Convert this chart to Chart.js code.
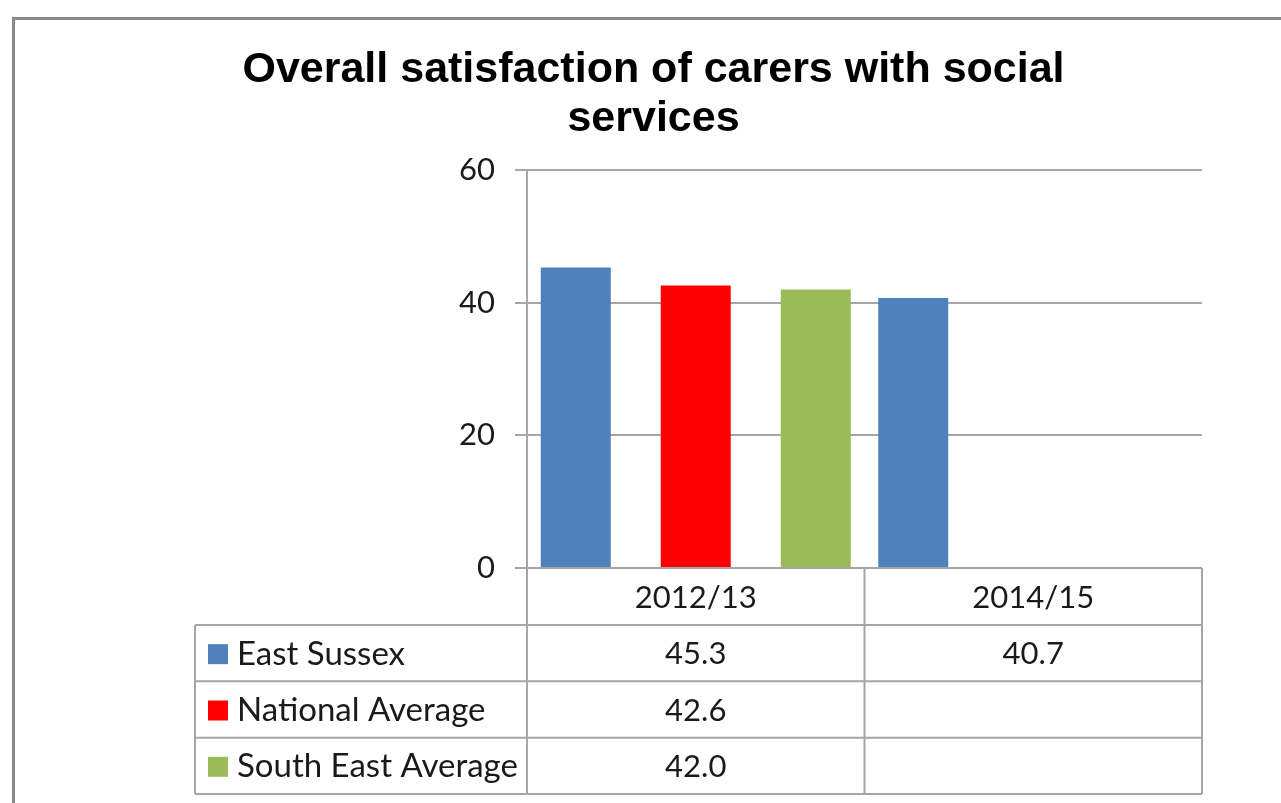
<!DOCTYPE html>
<html>
<head>
<meta charset="utf-8">
<title>Overall satisfaction of carers with social services</title>
<script src="https://cdn.jsdelivr.net/npm/chart.js@4.4.1/dist/chart.umd.min.js"></script>
<style>
  html, body { margin: 0; padding: 0; background: #fff; }
  #wrap { width: 1281px; height: 803px; position: relative; }
</style>
</head>
<body>
<div id="wrap"><canvas id="chart" width="1281" height="803"></canvas></div>
<script>
// Survey years (categories) and the satisfaction score for each area
const categories = ['2012/13', '2014/15'];
const eastSussex = [45.3, 40.7];
const nationalAverage = [42.6, null];
const southEastAverage = [42.0, null];

const seriesNames = ['East Sussex', 'National Average', 'South East Average'];
const seriesColors = ['#4F81BD', '#FF0000', '#9BBB59'];
const yTicks = [0, 20, 40, 60];

const titleLines = ['Overall satisfaction of carers with social', 'services'];

const LINE = '#a6a6a6';
const NUM_FONT = '31px Lato';
const LABEL_FONT = '33px Lato';

// Outer frame of the chart object
const framePlugin = {
  id: 'frame',
  beforeDraw(chart) {
    const ctx = chart.ctx;
    ctx.save();
    ctx.fillStyle = '#ffffff';
    ctx.fillRect(0, 0, chart.width, chart.height);
    ctx.fillStyle = '#8a8a8a';
    ctx.fillRect(12, 17, chart.width - 12, 3);
    ctx.fillRect(12, 17, 3, chart.height - 17);
    ctx.restore();
  }
};

// Data table under the plot: category header, legend keys and values
const dataTablePlugin = {
  id: 'dataTable',
  afterDraw(chart) {
    const ctx = chart.ctx;
    const area = chart.chartArea;
    const xs = chart.scales.x;
    const n = categories.length;
    const colW = (area.right - area.left) / n;
    const colEdges = [];
    for (let i = 0; i <= n; i++) colEdges.push(area.left + colW * i);

    const tableLeft = 195;
    const headerTop = area.bottom;
    const headerBottom = 625;
    const rowH = (794 - headerBottom) / seriesNames.length;
    const rowTops = [];
    for (let r = 0; r <= seriesNames.length; r++) rowTops.push(headerBottom + rowH * r);
    const tableBottom = rowTops[rowTops.length - 1];

    ctx.save();
    ctx.strokeStyle = LINE;
    ctx.lineWidth = 2;
    ctx.beginPath();
    // vertical lines
    colEdges.forEach(x => { ctx.moveTo(x, headerTop); ctx.lineTo(x, tableBottom); });
    ctx.moveTo(tableLeft, headerBottom); ctx.lineTo(tableLeft, tableBottom);
    // horizontal lines
    ctx.moveTo(area.left, headerTop); ctx.lineTo(area.right, headerTop);
    rowTops.forEach(y => { ctx.moveTo(tableLeft, y); ctx.lineTo(area.right, y); });
    ctx.stroke();

    ctx.fillStyle = '#1a1a1a';
    ctx.font = NUM_FONT;
    ctx.textBaseline = 'middle';
    ctx.textAlign = 'center';
    categories.forEach((c, i) => {
      const cx = xs.getPixelForValue(i);
      ctx.fillText(c, cx, (headerTop + headerBottom) / 2 + 1);
    });

    chart.data.datasets.forEach((ds, r) => {
      const cy = rowTops[r] + rowH / 2 + 1;
      ctx.fillStyle = seriesColors[r];
      ctx.fillRect(208, cy - 10, 20, 20);
      ctx.fillStyle = '#1a1a1a';
      ctx.font = LABEL_FONT;
      ctx.textAlign = 'left';
      ctx.fillText(ds.label, 237, cy);
      ctx.font = NUM_FONT;
      ctx.textAlign = 'center';
      ds.data.forEach((v, i) => {
        if (v === null || v === undefined) return;
        ctx.fillText(v.toFixed(1), xs.getPixelForValue(i), cy);
      });
    });
    ctx.restore();
  }
};

const seriesValues = [eastSussex, nationalAverage, southEastAverage];

new Chart(document.getElementById('chart'), {
  type: 'bar',
  data: {
    labels: categories,
    datasets: seriesNames.map((name, i) => ({
      label: name,
      data: seriesValues[i],
      backgroundColor: seriesColors[i],
      borderWidth: 0,
      categoryPercentage: 1.0667,
      barPercentage: 0.5833
    }))
  },
  options: {
    responsive: false,
    animation: false,
    layout: { padding: { top: 0, left: 105, right: 79, bottom: 235 } },
    plugins: {
      legend: { display: false },
      tooltip: { enabled: false },
      title: {
        display: true,
        text: titleLines,
        color: '#000',
        font: { family: '"Liberation Sans", Arial, sans-serif', size: 43, weight: 'bold', lineHeight: 1.14 },
        padding: { top: 46, bottom: 26 }
      }
    },
    scales: {
      x: { display: false },
      y: {
        min: 0,
        max: 60,
        afterFit(scale) { scale.width = 422; },
        afterBuildTicks(scale) { scale.ticks = yTicks.map(v => ({ value: v })); },
        border: { display: true, color: LINE, width: 2 },
        grid: { color: LINE, lineWidth: 2, tickLength: 12, drawTicks: true, tickColor: LINE },
        ticks: { color: '#1a1a1a', font: { family: 'Lato', size: 31 }, padding: 20 }
      }
    }
  },
  plugins: [framePlugin, dataTablePlugin]
});
</script>
</body>
</html>
